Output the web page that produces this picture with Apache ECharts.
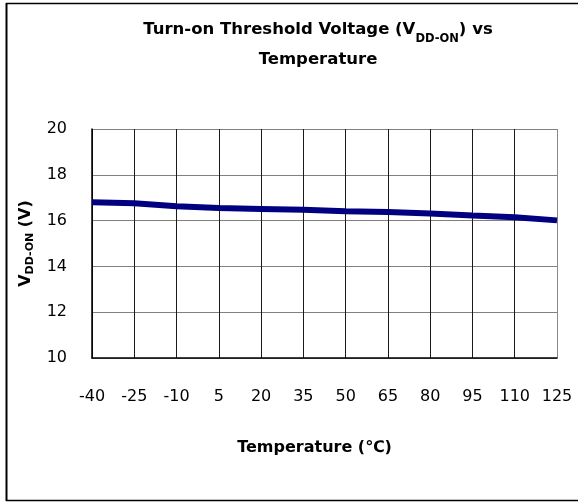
<!DOCTYPE html>
<html>
<head>
<meta charset="utf-8">
<script src="https://cdn.jsdelivr.net/npm/echarts@6/dist/echarts.min.js"></script>
<style>
html,body{margin:0;padding:0;background:#fff;overflow:hidden;}
#chart{width:578px;height:502px;}
</style>
</head>
<body>
<div id="chart"></div>
<script>
var categories = ['-40', '-25', '-10', '5', '20', '35', '50', '65', '80', '95', '110', '125'];
var vddOn = [16.80, 16.76, 16.63, 16.55, 16.51, 16.47, 16.41, 16.38, 16.31, 16.22, 16.15, 16.01];
var yMin = 10, yMax = 20, yStep = 2;

var FONT = '"DejaVu Sans", sans-serif';
var chart = echarts.init(document.getElementById('chart'), null, {renderer: 'canvas'});

var vColors = [];
for (var i = 0; i < categories.length; i++) vColors.push(i === categories.length - 1 ? '#8a8a8a' : '#1a1a1a');

chart.setOption({
  backgroundColor: '#fff',
  animation: false,
  graphic: [
    {
      type: 'line',
      shape: {x1: 6, y1: 3.5, x2: 578, y2: 3.5},
      style: {stroke: '#000', lineWidth: 1.5},
      silent: true
    },
    {
      type: 'line',
      shape: {x1: 6.5, y1: 3, x2: 6.5, y2: 501},
      style: {stroke: '#000', lineWidth: 2},
      silent: true
    },
    {
      type: 'line',
      shape: {x1: 6, y1: 500.5, x2: 578, y2: 500.5},
      style: {stroke: '#000', lineWidth: 1.5},
      silent: true
    },
    {
      type: 'text',
      x: 318,
      y: 15,
      style: {
        text: 'Turn-on Threshold Voltage (V{s|DD-ON}) vs\nTemperature',
        font: 'bold 16.5px ' + FONT,
        fill: '#000',
        textAlign: 'center',
        textVerticalAlign: 'top',
        lineHeight: 30,
        rich: {
          s: {fontSize: 11.5, fontWeight: 'bold', fontFamily: FONT, verticalAlign: 'bottom', lineHeight: 20, fill: '#000'}
        }
      },
      silent: true
    }
  ],
  grid: {left: 92, right: 21, top: 129, bottom: 144, containLabel: false},
  xAxis: {
    type: 'category',
    data: categories,
    boundaryGap: false,
    axisLine: {show: true, lineStyle: {color: '#000', width: 1.5}},
    axisTick: {show: false},
    axisLabel: {color: '#000', fontFamily: FONT, fontSize: 16, margin: 31},
    splitLine: {show: true, lineStyle: {color: vColors, width: 1}},
    name: 'Temperature (℃)',
    nameLocation: 'middle',
    nameGap: 82,
    nameTextStyle: {color: '#000', fontFamily: FONT, fontSize: 16, fontWeight: 'bold', padding: [0, 20, 0, 0]}
  },
  yAxis: {
    type: 'value',
    min: yMin,
    max: yMax,
    interval: yStep,
    axisLine: {show: true, lineStyle: {color: '#000', width: 1.5}},
    axisTick: {show: false},
    axisLabel: {color: '#000', fontFamily: FONT, fontSize: 16, margin: 25},
    splitLine: {show: true, lineStyle: {color: '#808080', width: 1}},
    name: 'V{s|DD-ON} (V)',
    nameLocation: 'middle',
    nameRotate: 90,
    nameGap: 56,
    nameTextStyle: {
      color: '#000', fontFamily: FONT, fontSize: 16, fontWeight: 'bold', lineHeight: 20,
      rich: {s: {fontSize: 11, fontWeight: 'bold', fontFamily: FONT, verticalAlign: 'bottom', lineHeight: 20, color: '#000'}}
    }
  },
  series: [{
    type: 'line',
    data: vddOn,
    symbol: 'none',
    lineStyle: {color: '#000080', width: 6},
    itemStyle: {color: '#000080'}
  }]
});
</script>
</body>
</html>
